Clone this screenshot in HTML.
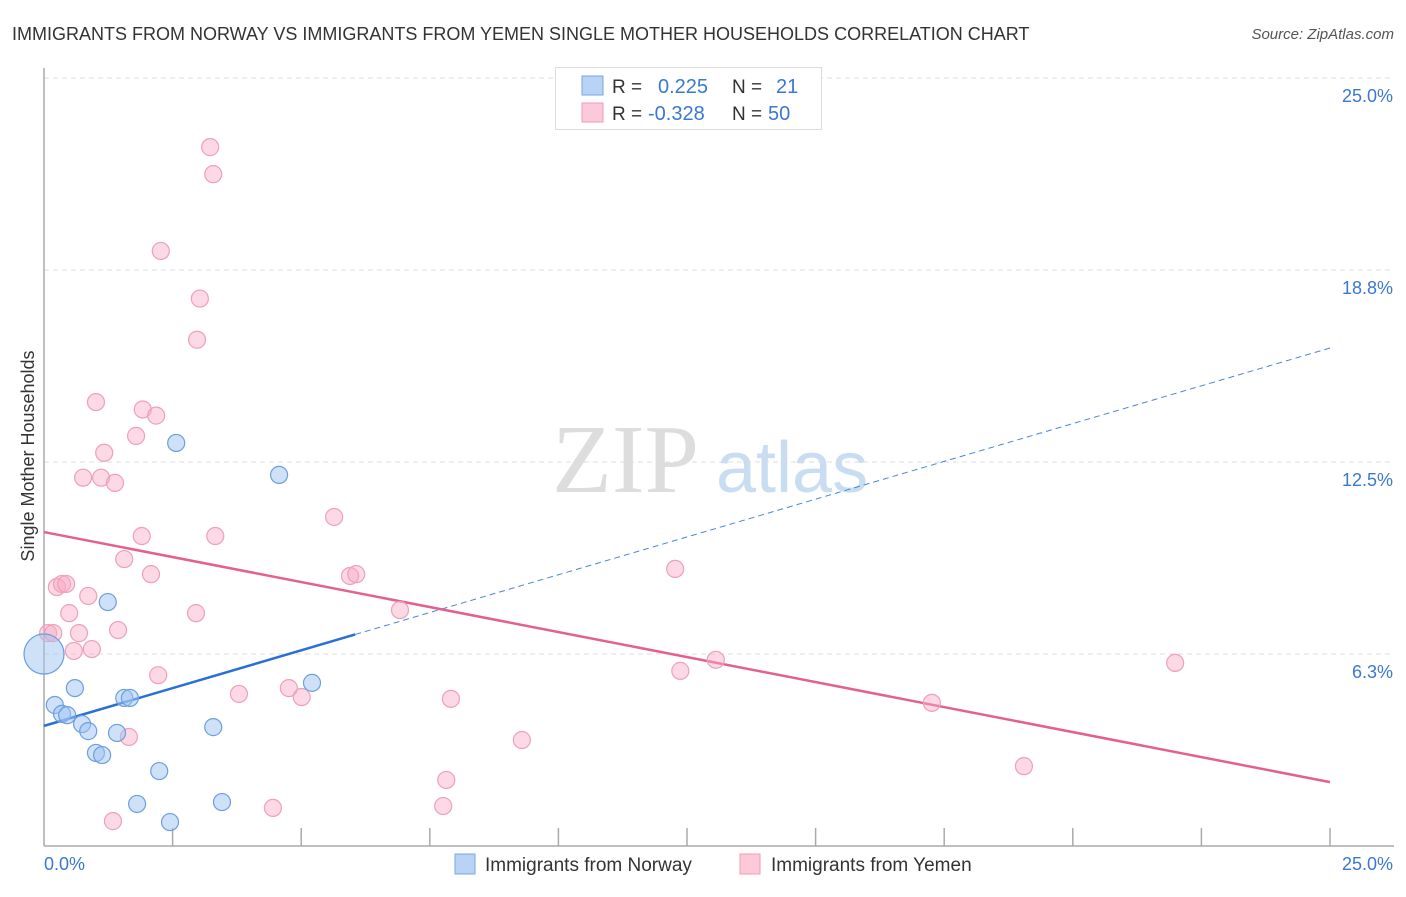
<!DOCTYPE html>
<html><head><meta charset="utf-8"><style>
body{margin:0;background:#fff;font-family:"Liberation Sans",sans-serif;}
svg text{font-family:"Liberation Sans",sans-serif;}
</style></head><body>
<svg id="chart" width="1406" height="892" xmlns="http://www.w3.org/2000/svg">
<text x="12" y="40" font-size="18" fill="#333">IMMIGRANTS FROM NORWAY VS IMMIGRANTS FROM YEMEN SINGLE MOTHER HOUSEHOLDS CORRELATION CHART</text>
<text x="1394" y="39" font-size="15" fill="#555" font-style="italic" text-anchor="end">Source: ZipAtlas.com</text>
<g>
<text x="552" y="492" font-size="98" fill="#ddd" font-family="Liberation Serif" style="font-family:'Liberation Serif',serif">ZIP</text>
<text x="716" y="492" font-size="72" fill="#c8dcf2">atlas</text>
</g>
<g id="grid"></g>
<g id="axes"></g>
<g id="trend"></g>
<g id="points"></g>
<text transform="translate(34,456) rotate(-90)" font-size="18" fill="#333" text-anchor="middle">Single Mother Households</text>
<g>
<rect x="555.5" y="67.5" width="266" height="62" fill="#fff" stroke="#ddd"/>
<rect x="582" y="76" width="21" height="19" fill="#b8d3f5" stroke="#7aa7e0"/>
<rect x="582" y="103" width="21" height="19" fill="#fcc9d8" stroke="#f09ab5"/>
<text x="612" y="93" font-size="19" fill="#333">R =</text>
<text x="658" y="93" font-size="20" fill="#3a78d4">0.225</text>
<text x="732" y="93" font-size="19" fill="#333">N =</text>
<text x="776" y="93" font-size="20" fill="#3a78d4">21</text>
<text x="612" y="120" font-size="19" fill="#333">R =</text>
<text x="648" y="120" font-size="20" fill="#3a78d4">-0.328</text>
<text x="732" y="120" font-size="19" fill="#333">N =</text>
<text x="768" y="120" font-size="20" fill="#3a78d4">50</text>
</g>
<g>
<rect x="455" y="854" width="20" height="20" fill="#b8d3f5" stroke="#7aa7e0"/>
<text x="485" y="871" font-size="19" fill="#333">Immigrants from Norway</text>
<rect x="740" y="854" width="20" height="20" fill="#fcc9d8" stroke="#f09ab5"/>
<text x="771" y="871" font-size="19" fill="#333">Immigrants from Yemen</text>
</g>
</svg>
<script>
const yTicks=[6.25,12.5,18.75,25];
const yTickLabels=["6.3%","12.5%","18.8%","25.0%"];
const xTickLabels=["0.0%","25.0%"];
const norwayX=[0.21,0.35,0.45,0.60,0.74,0.86,1.01,1.13,1.24,1.42,1.56,1.67,1.81,2.24,2.45,2.57,3.29,3.46,4.57,5.21,0];
const norwayY=[4.59,4.30,4.26,5.14,3.97,3.74,3.03,2.96,7.94,3.68,4.82,4.82,1.37,2.44,0.78,13.12,3.87,1.43,12.08,5.31,6.25];
const yemenX=[0.08,0.18,0.25,0.35,0.43,0.49,0.58,0.68,0.86,0.93,1.01,1.11,1.17,1.38,1.44,1.56,1.65,1.79,1.90,1.92,2.08,2.18,2.22,2.27,2.955,2.975,3.03,3.23,3.29,3.33,3.79,4.45,4.76,5.01,5.64,5.95,6.07,6.92,7.76,7.82,7.91,9.29,12.27,12.37,13.06,17.26,19.05,21.99,1.34,0.76];
const yemenY=[6.93,6.93,8.43,8.53,8.53,7.58,6.35,6.93,8.14,6.41,14.45,11.99,12.80,11.82,7.03,9.34,3.55,13.35,10.09,14.21,8.85,14.01,5.56,19.37,7.58,16.48,17.82,22.75,21.87,10.09,4.95,1.24,5.14,4.85,10.71,8.79,8.85,7.68,1.30,2.15,4.79,3.45,9.02,5.70,6.06,4.66,2.60,5.96,0.81,11.99];
const norwayTrend=[3.91,16.21];
const yemenTrend=[10.22,2.08];
const norwaySolidEnd=6.05;

const X0=44,X1=1330,Y0=846,Y1=78;
const sx=v=>X0+v/25*(X1-X0);
const sy=v=>Y0-v/25*(Y0-Y1);
const NS="http://www.w3.org/2000/svg";
function mk(parent,tag,attrs){const e=document.createElementNS(NS,tag);for(const k in attrs)e.setAttribute(k,attrs[k]);document.getElementById(parent).appendChild(e);return e;}

yTicks.forEach((t,i)=>{
  const g=mk('grid','line',{x1:X0,x2:1394,y1:sy(t),y2:sy(t),stroke:'#ddd','stroke-dasharray':'5,4'});
  
  
  const l=mk('grid','text',{x:1393,y:sy(t)+24,'font-size':18,fill:'#3a78d4','text-anchor':'end'});
  l.textContent=yTickLabels[i];
  
  
});
const ya=mk('axes','line',{x1:X0,x2:X0,y1:68,y2:Y0,stroke:'#aaa','stroke-width':1.5});


const xa=mk('axes','line',{x1:X0,x2:X1+64,y1:Y0,y2:Y0,stroke:'#aaa','stroke-width':1.5});


for(let i=1;i<=10;i++){
  const t=mk('axes','line',{x1:sx(i*2.5),x2:sx(i*2.5),y1:828,y2:Y0,stroke:'#aaa','stroke-width':1.5});
  
  
}
const xl0=mk('axes','text',{x:44,y:870,'font-size':18,fill:'#3a78d4'});xl0.textContent=xTickLabels[0];


const xl1=mk('axes','text',{x:1393,y:870,'font-size':18,fill:'#3a78d4','text-anchor':'end'});xl1.textContent=xTickLabels[1];



const nAt=x=>norwayTrend[0]+(norwayTrend[1]-norwayTrend[0])*x/25;
const t1=mk('trend','line',{x1:sx(0),y1:sy(nAt(0)),x2:sx(norwaySolidEnd),y2:sy(nAt(norwaySolidEnd)),stroke:'#2a6fd6','stroke-width':2.5});


const t2=mk('trend','line',{x1:sx(norwaySolidEnd),y1:sy(nAt(norwaySolidEnd)),x2:sx(25),y2:sy(nAt(25)),stroke:'#4a86dc','stroke-width':1,'stroke-dasharray':'6,4'});


const t3=mk('trend','line',{x1:sx(0),y1:sy(yemenTrend[0]),x2:sx(25),y2:sy(yemenTrend[1]),stroke:'#e4608e','stroke-width':2.5});



yemenX.forEach((x,i)=>{
  const c=mk('points','circle',{cx:sx(x),cy:sy(yemenY[i]),r:8.5,fill:'rgba(248,170,195,0.45)',stroke:'#eea0b9','stroke-width':1.2});
  
  
});
norwayX.forEach((x,i)=>{
  const r=(i===norwayX.length-1)?20:8.5;
  const c=mk('points','circle',{cx:sx(x),cy:sy(norwayY[i]),r:r,fill:'rgba(160,196,240,0.5)',stroke:'#6b9fe0','stroke-width':1.2});
  
  
});
</script>
</body></html>
